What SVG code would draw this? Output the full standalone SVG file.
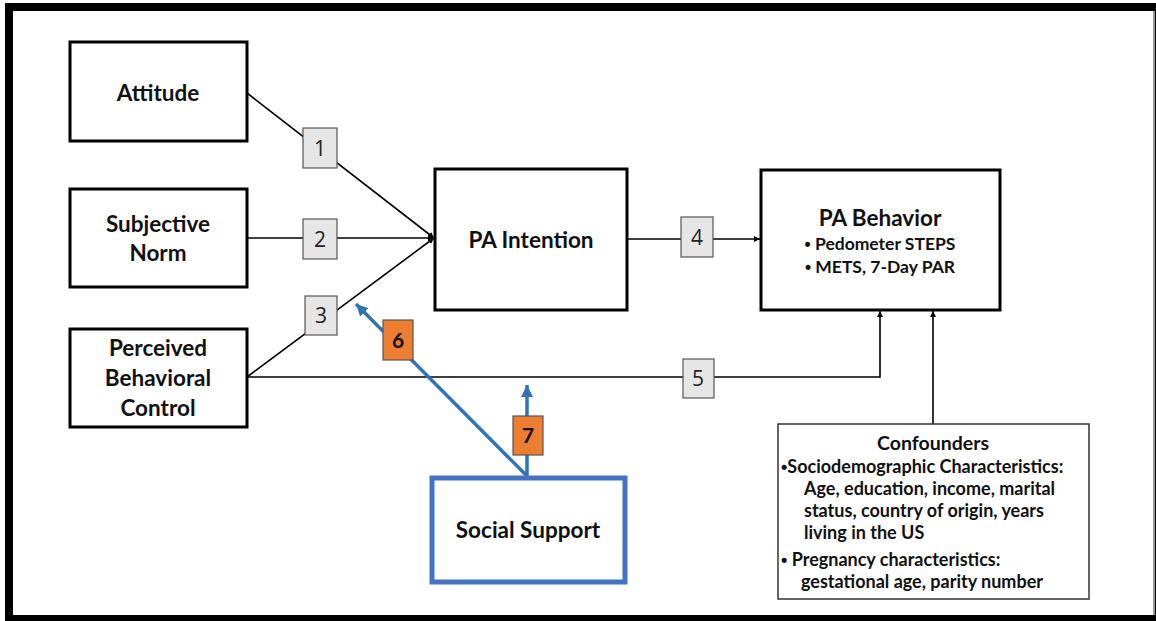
<svg xmlns="http://www.w3.org/2000/svg" width="1156" height="621" viewBox="0 0 1156 621">
<defs>
<style>
.node{fill:#fff;stroke:#000;stroke-width:3}
.t{font-family:Lato,"Open Sans","Liberation Sans",sans-serif;font-weight:bold;fill:#111;text-anchor:middle}
.big{font-size:22.5px}
.mid{font-size:17.5px}
.num{font-family:"Open Sans","Liberation Sans",sans-serif;font-size:21px;fill:#222;text-anchor:middle}
.numb{font-family:Lato,"Open Sans",sans-serif;font-weight:bold;font-size:21px;fill:#111;text-anchor:middle}
.lab{fill:#e6e6e6;stroke:#555;stroke-width:1.2}
.olab{fill:#ED7D31;stroke:#555;stroke-width:1.2}
.ln{stroke:#000;stroke-width:1.6;fill:none}
.bl{stroke:#2E75B6;stroke-width:3.5;fill:none}
.cf{font-family:Lato,"Open Sans",sans-serif;font-weight:bold;font-size:18px;fill:#111}
.bu{font-family:"Liberation Sans",sans-serif}
</style>
<marker id="ah" viewBox="0 0 10 10" refX="10" refY="5" markerWidth="6" markerHeight="6" orient="auto" markerUnits="userSpaceOnUse"><path d="M0,0 L10,5 L0,10 z" fill="#000"/></marker>
<marker id="bh" viewBox="0 0 10 10" refX="10" refY="5" markerWidth="12" markerHeight="12" orient="auto" markerUnits="userSpaceOnUse"><path d="M0,0 L10,5 L0,10 z" fill="#2E75B6"/></marker>
</defs>
<rect x="0" y="0" width="1156" height="621" fill="#fff"/>
<rect x="9" y="7" width="1150" height="612" fill="none" stroke="#000" stroke-width="8"/>
<line x1="1154" y1="11" x2="1154" y2="615" stroke="#777" stroke-width="1.5"/>

<g id="connectors">
<line class="ln" x1="247" y1="93" x2="434" y2="238" marker-end="url(#ah)"/>
<line class="ln" x1="247" y1="238" x2="434" y2="238" marker-end="url(#ah)"/>
<line class="ln" x1="247" y1="377" x2="434" y2="238" marker-end="url(#ah)"/>
<line class="ln" x1="627" y1="239" x2="760" y2="239" marker-end="url(#ah)"/>
<polyline class="ln" points="247,377 880,377 880,311" marker-end="url(#ah)"/>
<line class="ln" x1="933" y1="424" x2="933" y2="311" marker-end="url(#ah)"/>
<line class="bl" x1="527" y1="476" x2="356" y2="304" marker-end="url(#bh)"/>
<line class="bl" x1="527" y1="476" x2="527" y2="385" marker-end="url(#bh)"/>
<g id="lab1"><rect class="lab" x="303" y="128" width="34" height="40"/><text class="num" x="320" y="156">1</text></g>
<g id="lab2"><rect class="lab" x="303" y="219" width="34" height="40"/><text class="num" x="320" y="247">2</text></g>
<g id="lab3"><rect class="lab" x="305" y="296" width="32" height="39"/><text class="num" x="321" y="323">3</text></g>
<g id="lab4"><rect class="lab" x="681" y="217" width="32" height="40"/><text class="num" x="697" y="245">4</text></g>
<g id="lab5"><rect class="lab" x="683" y="359" width="31" height="39"/><text class="num" x="698" y="386">5</text></g>
<g id="lab6"><rect class="olab" x="383" y="320" width="30" height="40"/><text class="numb" x="398" y="348">6</text></g>
<g id="lab7"><rect class="olab" x="513" y="416" width="30" height="39"/><text class="numb" x="528" y="443">7</text></g>
</g>

<g id="attitude"><rect class="node" x="70" y="42" width="177" height="99"/><text class="t big" x="158" y="101">Attitude</text></g>
<g id="subjective-norm"><rect class="node" x="70" y="189" width="177" height="98"/><text class="t big" x="158" y="232">Subjective</text><text class="t big" x="158" y="261">Norm</text></g>
<g id="pbc"><rect class="node" x="70" y="329" width="177" height="98"/><text class="t big" x="158" y="356">Perceived</text><text class="t big" x="158" y="386">Behavioral</text><text class="t big" x="158" y="416">Control</text></g>
<g id="pa-intention"><rect class="node" x="435" y="169" width="192" height="141"/><text class="t big" x="531" y="248">PA Intention</text></g>
<g id="pa-behavior"><rect class="node" x="761" y="170" width="239" height="140"/><text class="t big" x="880" y="226">PA Behavior</text><text class="t mid" x="880" y="250"><tspan class="bu">•</tspan> Pedometer STEPS</text><text class="t mid" x="880" y="273"><tspan class="bu">•</tspan> METS, 7-Day PAR</text></g>
<g id="confounders"><rect x="778" y="424" width="311" height="175" fill="#fff" stroke="#333" stroke-width="1.5"/>
<text class="t" style="font-size:19.5px" x="933" y="450">Confounders</text>
<text class="cf" x="781" y="473"><tspan class="bu">•</tspan>Sociodemographic Characteristics:</text>
<text class="cf" x="804" y="495">Age, education, income, marital</text>
<text class="cf" x="804" y="517">status, country of origin, years</text>
<text class="cf" x="804" y="539">living in the US</text>
<text class="cf" x="781" y="566"><tspan class="bu">•</tspan> Pregnancy characteristics:</text>
<text class="cf" x="801" y="588">gestational age, parity number</text>
</g>
<g id="social-support"><rect x="432" y="478" width="193" height="104" fill="#fff" stroke="#4472C4" stroke-width="5"/><text class="t big" x="528" y="538">Social Support</text></g>
</svg>
